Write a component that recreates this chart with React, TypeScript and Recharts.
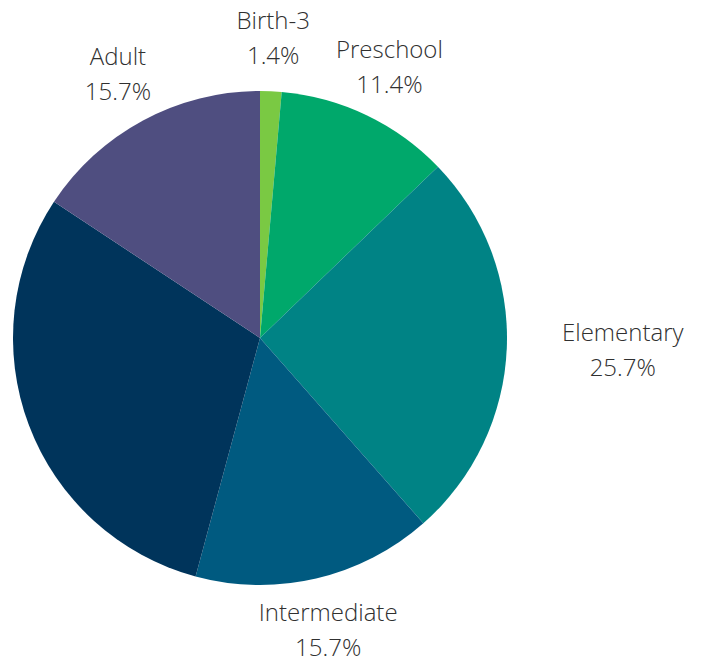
import React from "react";
import { PieChart, Pie, Cell } from "recharts";

const categories = ["Birth-3", "Preschool", "Elementary", "Intermediate", "Secondary", "Adult"];
const values = [1.4, 11.4, 25.7, 15.7, 30.1, 15.7];
const percentLabels = ["1.4%", "11.4%", "25.7%", "15.7%", "30.1%", "15.7%"];
const showLabel = [true, true, true, true, false, true];
const colors = ["#7AC943", "#00A86B", "#008385", "#005A80", "#00345B", "#4F4E80"];

const data = categories.map((name, i) => ({ name, value: values[i], pct: percentLabels[i] }));

const RAD = Math.PI / 180;

const renderLabel = (props: any) => {
  const { cx, cy, midAngle, outerRadius, index } = props;
  if (!showLabel[index]) return null;
  const r = outerRadius + 53;
  const cos = Math.cos(-midAngle * RAD);
  const sin = Math.sin(-midAngle * RAD);
  let x = cx + r * cos;
  const y = cy + r * sin;
  if (cos > 0.9) x += 63;
  else if (cos < -0.9) x -= 63;
  return (
    <text
      x={x}
      y={y}
      textAnchor="middle"
      fill="#303030"
      fontFamily="'Open Sans', sans-serif"
      fontWeight={300}
      fontSize={24}
    >
      <tspan x={x} dy={-9}>{data[index].name}</tspan>
      <tspan x={x} dy={35}>{data[index].pct}</tspan>
    </text>
  );
};

export default function App() {
  return (
    <div style={{ position: "relative", width: 697, height: 652 }}>
      <PieChart width={697} height={652} margin={{ top: 0, right: 0, bottom: 0, left: 0 }}>
        <Pie
          data={data}
          dataKey="value"
          nameKey="name"
          cx={252}
          cy={330}
          outerRadius={247}
          startAngle={90}
          endAngle={-270}
          stroke="none"
          label={renderLabel}
          labelLine={false}
          isAnimationActive={false}
        >
          {data.map((d, i) => (
            <Cell key={d.name} fill={colors[i]} />
          ))}
        </Pie>
      </PieChart>
      <svg
        width={140}
        height={10}
        style={{ position: "absolute", left: 392, top: -8, zIndex: 5, pointerEvents: "none" }}
      >
        <path d="M0,0 L130,0 L128,5 Q127,7 122,7 Q60,5 0,0 Z" fill="#E1E2E6" />
      </svg>
    </div>
  );
}
